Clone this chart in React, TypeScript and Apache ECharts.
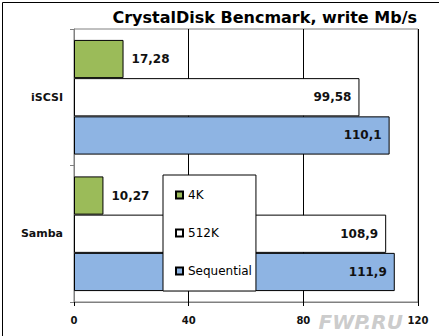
import React, { useEffect, useRef } from "react";
import * as echarts from "echarts";

const categories = ["iSCSI", "Samba"];
const seriesNames = ["4K", "512K", "Sequential"];
const values4K = [17.28, 10.27];
const values512K = [99.58, 108.9];
const valuesSeq = [110.1, 111.9];
const xTicks = [0, 40, 80, 120];

const FONT = "'DejaVu Sans', Verdana, sans-serif";

export default function App() {
  const ref = useRef<HTMLDivElement>(null);
  useEffect(() => {
    if (!ref.current) return;
    const chart = echarts.init(ref.current, undefined, { renderer: "svg" });
    const fmt = (p: any) => String(p.value).replace(".", ",");
    const labelStyle = {
      show: true,
      fontFamily: FONT,
      fontWeight: "bold",
      fontSize: 12,
      color: "#111",
      formatter: fmt,
    };
    const colors = ["#9BBB59", "#FFFFFF", "#8EB4E3"];
    const data = [values4K, values512K, valuesSeq];
    chart.setOption({
      animation: false,
      backgroundColor: "#fff",
      title: {
        text: "CrystalDisk Bencmark, write Mb/s",
        right: 17,
        top: 4,
        textStyle: { fontFamily: FONT, fontWeight: "bold", fontSize: 16, color: "#000" },
      },
      legend: {
        orient: "vertical",
        left: 163,
        top: 175,
        data: seriesNames,
        icon: "rect",
        itemWidth: 7,
        itemHeight: 7,
        itemGap: 24,
        padding: [13, 4, 13, 12],
        borderColor: "#000",
        borderWidth: 1,
        backgroundColor: "#fff",
        textStyle: { fontFamily: FONT, fontSize: 12, color: "#000", lineHeight: 14 },
      },
      grid: {
        left: 74,
        top: 29,
        right: 21,
        bottom: 34,
        show: true,
        borderColor: "#808080",
        borderWidth: 1,
        containLabel: false,
      },
      xAxis: {
        type: "value",
        min: xTicks[0],
        max: xTicks[xTicks.length - 1],
        interval: 40,
        axisLine: { show: true, lineStyle: { color: "#808080" } },
        axisTick: { show: true, length: 4, lineStyle: { color: "#000" } },
        splitLine: { show: true, lineStyle: { color: "#000", width: 1 } },
        axisLabel: {
          fontFamily: FONT,
          fontWeight: "bold",
          fontSize: 10,
          color: "#111",
          margin: 13,
        },
      },
      yAxis: {
        type: "category",
        inverse: true,
        data: categories,
        axisLine: { show: true, lineStyle: { color: "#808080" } },
        axisTick: { show: true, length: 4, lineStyle: { color: "#808080" } },
        axisLabel: {
          fontFamily: FONT,
          fontWeight: "bold",
          fontSize: 11,
          color: "#111",
          margin: 11,
        },
      },
      series: seriesNames.map((name, i) => ({
        name,
        type: "bar",
        data: data[i],
        barGap: "0%",
        barCategoryGap: "16%",
        itemStyle: { color: colors[i], borderColor: "#000", borderWidth: 1 },
        label: {
          ...labelStyle,
          position: i === 0 ? "right" : "insideRight",
          distance: 8,
        },
        z: 3,
      })),
      graphic: [
        {
          type: "rect",
          left: 0,
          top: 0,
          shape: { x: 0.5, y: 0.5, width: 438, height: 335 },
          style: { fill: "none", stroke: "#000", lineWidth: 1 },
          silent: true,
        },
        {
          type: "text",
          right: 36,
          bottom: 4,
          style: {
            text: "FWP.RU",
            fontFamily: FONT,
            fontStyle: "italic",
            fontWeight: "bold",
            fontSize: 20,
            fill: "rgba(190,190,190,0.8)",
          },
          z: 10,
        },
      ],
    });
    return () => chart.dispose();
  }, []);
  return (
    <div
      ref={ref}
      style={{ position: "fixed", left: 0, top: 0, width: 439, height: 336 }}
    />
  );
}
